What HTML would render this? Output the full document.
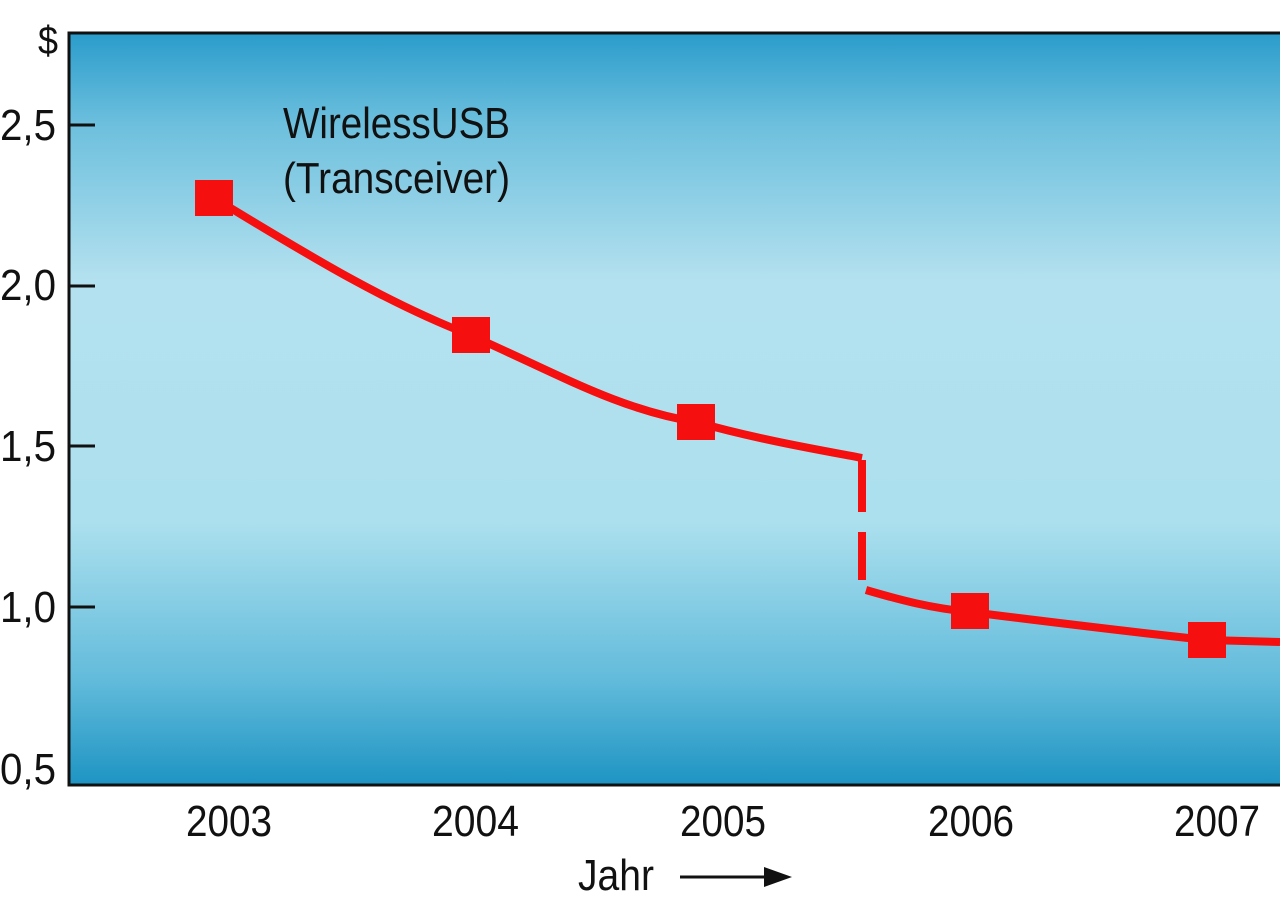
<!DOCTYPE html>
<html><head><style>
html,body{margin:0;padding:0;background:#fff;width:1280px;height:905px;overflow:hidden}
svg text{font-family:"Liberation Sans",sans-serif;fill:#111}
</style></head><body>
<svg width="1280" height="905" viewBox="0 0 1280 905" xmlns="http://www.w3.org/2000/svg">
<defs>
<linearGradient id="g" x1="0" y1="0" x2="0" y2="1">
<stop offset="0" stop-color="#2a9ccb"/>
<stop offset="0.12" stop-color="#6cbfdd"/>
<stop offset="0.33" stop-color="#b4e1ef"/>
<stop offset="0.65" stop-color="#ace0ee"/>
<stop offset="0.86" stop-color="#62bbdb"/>
<stop offset="1" stop-color="#1e94c3"/>
</linearGradient>
</defs>
<rect x="69" y="33" width="1215" height="752" fill="url(#g)" stroke="#111" stroke-width="3"/>
<g stroke="#111" stroke-width="3">
<line x1="70" y1="125" x2="95" y2="125"/>
<line x1="70" y1="286" x2="95" y2="286"/>
<line x1="70" y1="446" x2="95" y2="446"/>
<line x1="70" y1="607" x2="95" y2="607"/>
</g>
<g font-size="44" lengthAdjust="spacingAndGlyphs">
<text x="38" y="54" font-size="40" textLength="20" lengthAdjust="spacingAndGlyphs">$</text>
<text x="0" y="140" textLength="56" lengthAdjust="spacingAndGlyphs">2,5</text>
<text x="0" y="300" textLength="56" lengthAdjust="spacingAndGlyphs">2,0</text>
<text x="0" y="461" textLength="56" lengthAdjust="spacingAndGlyphs">1,5</text>
<text x="0" y="622" textLength="56" lengthAdjust="spacingAndGlyphs">1,0</text>
<text x="0" y="784" textLength="56" lengthAdjust="spacingAndGlyphs">0,5</text>
<text x="186" y="836" textLength="86" lengthAdjust="spacingAndGlyphs">2003</text>
<text x="432" y="836" textLength="87" lengthAdjust="spacingAndGlyphs">2004</text>
<text x="680" y="836" textLength="86" lengthAdjust="spacingAndGlyphs">2005</text>
<text x="928" y="836" textLength="86" lengthAdjust="spacingAndGlyphs">2006</text>
<text x="1174" y="836" textLength="86" lengthAdjust="spacingAndGlyphs">2007</text>
<text x="578" y="890" textLength="76" lengthAdjust="spacingAndGlyphs">Jahr</text>
<text x="283" y="138" textLength="227" lengthAdjust="spacingAndGlyphs">WirelessUSB</text>
<text x="283" y="193" textLength="227" lengthAdjust="spacingAndGlyphs">(Transceiver)</text>
</g>
<line x1="680" y1="877" x2="770" y2="877" stroke="#111" stroke-width="3"/>
<polygon points="792,877 764,867 764,887" fill="#111"/>
<g fill="none" stroke="#f50f0f" stroke-width="8">
<path d="M214,198 C300,250 380,300 470,335 C560,375 620,410 696,422 C760,440 820,450 862,458"/>
<line x1="862" y1="460" x2="862" y2="512"/>
<line x1="862" y1="532" x2="862" y2="580"/>
<path d="M866,590 C900,600 930,608 970,612 C1050,622 1130,632 1207,640 L1280,642"/>
</g>
<g fill="#f50f0f">
<rect x="195" y="180" width="38" height="36"/>
<rect x="452" y="317" width="38" height="36"/>
<rect x="677" y="404" width="38" height="36"/>
<rect x="951" y="593" width="38" height="36"/>
<rect x="1188" y="622" width="38" height="36"/>
</g>
</svg>
</body></html>
